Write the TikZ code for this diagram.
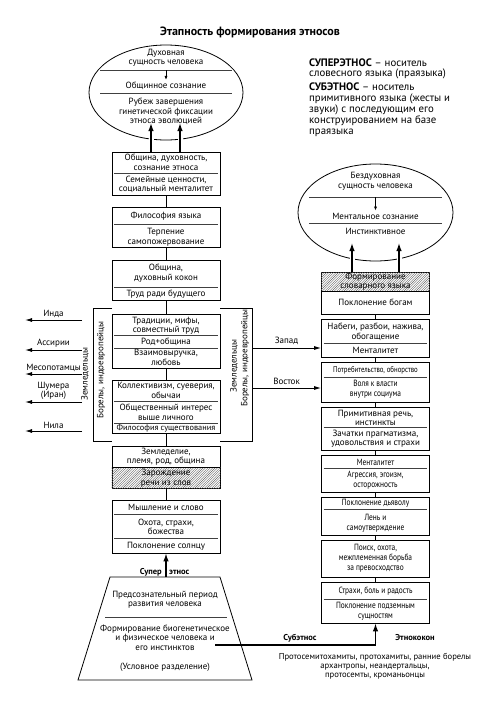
\documentclass[tikz,border=0pt]{standalone}
\usepackage{fontspec}
\setmainfont{PT Sans}
\newfontfamily\condfont{PT Sans}[FakeStretch=0.82]
\usetikzlibrary{arrows.meta,shapes.geometric,patterns}

\pgfdeclarepatternformonly{dense lines}{\pgfqpoint{-1pt}{-1pt}}{\pgfqpoint{3.5pt}{3.5pt}}{\pgfqpoint{2.4pt}{2.4pt}}{
	\pgfsetlinewidth{0.4pt}
	\pgfpathmoveto{\pgfqpoint{0pt}{0pt}}
	\pgfpathlineto{\pgfqpoint{2.5pt}{2.5pt}}
	\pgfusepath{stroke}}

\newcommand{\panel}[4]{\node[panel, minimum height={(#4-#3)*1pt}] (#1) at (#2,{(#3+#4)/2}) {};}
\newcommand{\sepline}[2]{\draw[divl] (#1.west |- 0,#2) -- (#1.east |- 0,#2);}
\newcommand{\hatchpart}[3]{\fill[pattern=dense lines, pattern color=black!60] (#1.west |- 0,#2) rectangle (#1.east |- 0,#3);}

\begin{document}
\begin{tikzpicture}[x=1pt,y=-1pt,
	panel/.style={draw, line width=0.8pt, minimum width=108pt, inner sep=0pt},
	txt/.style={align=center, inner sep=0pt, font=\fontsize{9}{9.5}\selectfont},
	ctxt/.style={txt, font=\condfont\fontsize{9}{9.8}\selectfont},
	btxt/.style={txt, font=\bfseries\fontsize{8.5}{9.5}\selectfont},
	divl/.style={line width=0.5pt, black!75, shorten <=2.5pt, shorten >=2.5pt},
	link/.style={line width=0.8pt},
	arr/.style={line width=0.9pt, -{Latex[length=7pt,width=4pt]}},
	uparr/.style={line width=1.3pt, -{Latex[length=8pt,width=5.5pt]}},
	smallarr/.style={line width=0.7pt, -{Latex[length=4pt,width=3pt]}, shorten >=2pt},
	halo/.style={preaction={draw=white, line width=5pt, -, shorten <=2pt, shorten >=8pt}},
	oval/.style={draw, ellipse, line width=0.8pt, inner sep=0pt}
	]
	\useasboundingbox (0,0) rectangle (500,707);
	
	\node[font=\bfseries\fontsize{12}{14}\selectfont, inner sep=0pt] (title) at (250,32) {Этапность формирования этносов};
	
	\node[anchor=north west, align=left, inner sep=0pt, font=\fontsize{10.8}{10.2}\selectfont] (note1) at (309,58.5) {\textbf{СУПЕРЭТНОС} – носитель\\словесного языка (праязыка)};
	\node[anchor=north west, align=left, inner sep=0pt, font=\fontsize{10.8}{11}\selectfont] (note2) at (309,82.5) {\textbf{СУБЭТНОС} – носитель\\примитивного языка (жесты и\\звуки) с последующим его\\конструированием на базе\\праязыка};
	
	\node[oval, minimum width=154pt, minimum height=95pt] (ell) at (166,92.5) {};
	\draw[divl, shorten <=0pt, shorten >=0pt] (100,70) -- (232,70);
	\draw[divl, shorten <=0pt, shorten >=0pt] (100,93) -- (232,93);
	\node[txt] (ella) at (166,58) {Духовная\\сущность человека};
	\node[txt] (ellb) at (166,86) {Общинное сознание};
	\node[txt] (ellc) at (166,111.5) {Рубеж завершения\\гинетической фиксации\\этноса эволюцией};
	\coordinate (ellsep) at (166,70);
	\draw[smallarr] (ellsep) -- (ellb.north);
	
	\node[oval, minimum width=155pt, minimum height=97pt] (rell) at (375.5,212.5) {};
	\draw[divl, shorten <=0pt, shorten >=0pt] (309,197) -- (442,197);
	\draw[divl, shorten <=0pt, shorten >=0pt] (309,223) -- (442,223);
	\node[txt] (rella) at (375.5,181.5) {Бездуховная\\сущность человека};
	\node[txt] (rellb) at (375.5,216) {Ментальное сознание};
	\node[txt] (rellc) at (375.5,231) {Инстинктивное};
	\coordinate (rellsep) at (375.5,197);
	\draw[smallarr] (rellsep) -- (rellb.north);
	
	\panel{l1}{166}{152}{195}
	\sepline{l1}{173}
	\node[txt] (l1a) at (166,162.5) {Община, духовность,\\сознание этноса};
	\node[txt] (l1b) at (166,184.5) {Семейные ценности,\\социальный менталитет};
	
	\panel{l2}{166}{207}{247}
	\sepline{l2}{224}
	\node[txt] (l2a) at (166,216) {Философия языка};
	\node[txt] (l2b) at (166,237) {Терпение\\самопожервование};
	
	\panel{l3}{166}{260}{300}
	\sepline{l3}{287}
	\node[txt] (l3a) at (166,273) {Община,\\духовный кокон};
	\node[txt] (l3b) at (166,294) {Труд ради будущего};
	
	\panel{l4}{166}{314}{368}
	\sepline{l4}{335}
	\sepline{l4}{348}
	\node[txt] (l4a) at (166,326) {Традиции, мифы,\\совместный труд};
	\node[txt] (l4b) at (166,342) {Род+община};
	\node[txt] (l4c) at (166,357.5) {Взаимовыручка,\\любовь};
	
	\panel{l5}{166}{380}{433}
	\sepline{l5}{401}
	\sepline{l5}{423}
	\node[txt] (l5a) at (166,390.5) {Коллективизм, суеверия,\\обычаи};
	\node[txt] (l5b) at (166,412.5) {Общественный интерес\\выше личного};
	\node[txt, font=\fontsize{8.3}{9}\selectfont] (l5c) at (166,428) {Философия существования};
	
	\panel{l6}{166}{446}{488}
	\hatchpart{l6}{467}{488}
	\draw[link] (l6.west |- 0,467) -- (l6.east |- 0,467);
	\node[txt] (l6a) at (166,456.5) {Земледелие,\\племя, род, община};
	\node[txt] (l6b) at (166,478) {Зарождение\\речи из слов};
	
	\panel{l7}{166}{500}{553}
	\sepline{l7}{514}
	\sepline{l7}{538}
	\node[txt] (l7a) at (166,507.5) {Мышление и слово};
	\node[txt] (l7b) at (166,527) {Охота, страхи,\\божества};
	\node[txt] (l7c) at (166,546) {Поклонение солнцу};
	
	\foreach \a/\b in {l1/l2,l2/l3,l3/l4,l4/l5,l5/l6,l6/l7}
		\draw[link] (\a) -- (\b);
	
	\panel{r1}{375.5}{272}{314}
	\hatchpart{r1}{272}{291}
	\draw[link] (r1.west |- 0,291) -- (r1.east |- 0,291);
	\node[txt] (r1a) at (375.5,281.5) {Формирование\\словарного языка};
	\node[txt] (r1b) at (375.5,302.5) {Поклонение богам};
	
	\panel{r2}{375.5}{319}{357}
	\sepline{r2}{343}
	\node[txt] (r2a) at (375.5,332) {Набеги, разбои, нажива,\\обогащение};
	\node[txt] (r2b) at (375.5,350) {Менталитет};
	
	\panel{r3}{375.5}{362}{402}
	\sepline{r3}{377}
	\node[ctxt, font=\condfont\fontsize{8.3}{9}\selectfont] (r3a) at (375.5,370) {Потребительство, обнорство};
	\node[ctxt] (r3b) at (375.5,389.5) {Воля к власти\\внутри социума};
	
	\panel{r4}{375.5}{407}{450}
	\sepline{r4}{427}
	\node[txt] (r4a) at (375.5,418) {Примитивная речь,\\инстинкты};
	\node[txt] (r4b) at (375.5,438.5) {Зачатки прагматизма,\\удовольствия и страхи};
	
	\panel{r5}{375.5}{455}{492}
	\sepline{r5}{468}
	\node[ctxt] (r5a) at (375.5,462) {Менталитет};
	\node[ctxt] (r5b) at (375.5,480.5) {Агрессия, эгоизм,\\осторожность};
	
	\panel{r6}{375.5}{497}{535}
	\sepline{r6}{509}
	\node[ctxt] (r6a) at (375.5,503.5) {Поклонение дьяволу};
	\node[ctxt] (r6b) at (375.5,523) {Лень и\\самоутверждение};
	
	\panel{r7}{375.5}{540}{577}
	\node[ctxt] (r7a) at (375.5,558.5) {Поиск, охота,\\межплеменная борьба\\за превосходство};
	
	\panel{r8}{375.5}{582}{623}
	\sepline{r8}{599}
	\node[ctxt] (r8a) at (375.5,591) {Страхи, боль и радость};
	\node[ctxt] (r8b) at (375.5,611) {Поклонение подземным\\сущностям};
	
	\foreach \a/\b in {r1/r2,r2/r3,r3/r4,r4/r5,r5/r6,r6/r7,r7/r8}
		\draw[link] (\a) -- (\b);
	
	\coordinate (ua1) at (151,123);
	\coordinate (ua2) at (180,123);
	\coordinate (ub1) at (352,243);
	\coordinate (ub2) at (399,243);
	\draw[uparr, halo] (l1.north -| ua1) -- (ua1);
	\draw[uparr, halo] (l1.north -| ua2) -- (ua2);
	\draw[uparr, halo] (r1.north -| ub1) -- (ub1);
	\draw[uparr, halo] (r1.north -| ub2) -- (ub2);
	
	\draw[link] (112,308) -- (93,308) -- (93,441) -- (112,441);
	\draw[link] (220,308) -- (252,308) -- (252,441) -- (220,441);
	\node[txt, rotate=90] (zl) at (85,374) {Земледельцы};
	\node[txt, rotate=90] (bl) at (101,370) {Борелы, индоевропейцы};
	\node[txt, rotate=90] (zr) at (234,366) {Земледельцы};
	\node[txt, rotate=90] (br) at (245,358) {Борелы, индоевропейцы};
	
	\foreach \y/\lbl [count=\i] in {320/Инда, 350/Ассирии, 374/Месопотамцы, 402/{Шумера\\(Иран)}, 431/Нила}{
		\coordinate (ws\i) at (82,\y);
		\coordinate (we\i) at (25,\y);
		\draw[arr] (ws\i) -- (we\i) node[txt, midway, above=2pt] (wl\i) {\lbl};
	}
	
	\coordinate (zap) at (252,348);
	\coordinate (vos) at (252,388);
	\draw[arr] (zap) -- (zap -| r2.west) node[txt, midway, above=2.5pt] (zapl) {Запад};
	\draw[arr] (vos) -- (vos -| r3.west) node[txt, midway, above=2.5pt] (vosl) {Восток};
	
	\draw[line width=0.8pt] (110,577) -- (220,577) -- (252,680) -- (78,680) -- cycle;
	\draw[divl, shorten <=0pt, shorten >=0pt] (105,617) -- (227,617);
	\node[txt] (tza) at (165,599.5) {Предсознательный период\\развития человека};
	\node[txt] (tzb) at (165,637.5) {Формирование биогенетическое\\и физическое человека и\\его инстинктов};
	\node[txt] (tzc) at (165,667) {(Условное разделение)};
	
	\coordinate (tz) at (166,577);
	\draw[uparr] (tz) -- (l7.south);
	\node[btxt, anchor=east] (supl) at (162,572) {Супер};
	\node[btxt, anchor=west] (etnl) at (169,572) {этнос};
	
	\coordinate (sub) at (215,645);
	\draw[uparr] (sub) -| (r8.south);
	\node[btxt] (subl) at (300,638) {Субэтнос};
	\node[btxt] (ekl) at (415,638) {Этнококон};
	\node[txt, font=\fontsize{8.6}{9}\selectfont] (proto) at (375,666.5) {Протосемитохамиты, протохамиты, ранние борелы\\архантропы, неандертальцы,\\протосемты, кроманьонцы};
\end{tikzpicture}
\end{document}
